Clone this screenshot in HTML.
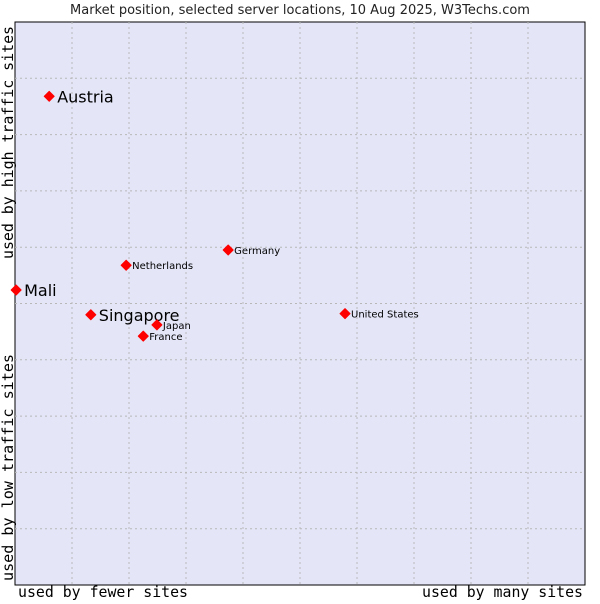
<!DOCTYPE html>
<html><head><meta charset="utf-8"><style>
body{margin:0;background:#fff;font-family:"DejaVu Sans","Liberation Sans",sans-serif}
</style></head><body>
<svg width="600" height="600" xmlns="http://www.w3.org/2000/svg">
<text x="300" y="14" text-anchor="middle" font-size="13" fill="#222">Market position, selected server locations, 10 Aug 2025, W3Techs.com</text>
<rect x="15" y="22" width="570" height="563" fill="#e4e6f8" stroke="#000" stroke-width="1"/>
<g id="grid"></g>
<g id="points"></g>
<text transform="translate(13,26) rotate(-90)" text-anchor="end" textLength="233" lengthAdjust="spacingAndGlyphs" font-family="DejaVu Sans Mono,Liberation Mono,monospace" font-size="15" fill="#000">used by high traffic sites</text>
<text transform="translate(13,581) rotate(-90)" textLength="227" lengthAdjust="spacingAndGlyphs" font-family="DejaVu Sans Mono,Liberation Mono,monospace" font-size="15" fill="#000">used by low traffic sites</text>
<text x="18" y="597" textLength="170" lengthAdjust="spacingAndGlyphs" font-family="DejaVu Sans Mono,Liberation Mono,monospace" font-size="15" fill="#000">used by fewer sites</text>
<text x="422" y="597" textLength="161" lengthAdjust="spacingAndGlyphs" font-family="DejaVu Sans Mono,Liberation Mono,monospace" font-size="15" fill="#000">used by many sites</text>
</svg>
<script>
const names=["Austria","Mali","Singapore","Netherlands","Germany","Japan","France","United States"];
const xVals=[6.0,0.2,13.3,19.5,37.4,24.9,22.5,57.9];
const yVals=[86.8,52.4,48.0,56.8,59.5,46.2,44.2,48.2];
const bigLabel=[true,true,true,false,false,false,false,false];
const L=15,T=22,W=570,H=563;
const sx=v=>L+v/100*W, sy=v=>T+H-v/100*H;
const NS="http://www.w3.org/2000/svg";
const g=document.getElementById('grid');
for(let i=1;i<10;i++){
 let l=document.createElementNS(NS,'line');
 l.setAttribute('x1',sx(i*10));l.setAttribute('x2',sx(i*10));l.setAttribute('y1',T);l.setAttribute('y2',T+H);
 l.setAttribute('stroke','#b8b8b8');l.setAttribute('stroke-dasharray','2,3');
 
 
 g.appendChild(l);
 let h=document.createElementNS(NS,'line');
 h.setAttribute('y1',sy(i*10));h.setAttribute('y2',sy(i*10));h.setAttribute('x1',L);h.setAttribute('x2',L+W);
 h.setAttribute('stroke','#b8b8b8');h.setAttribute('stroke-dasharray','2,3');
 
 
 g.appendChild(h);
}
const p=document.getElementById('points');
names.forEach((n,i)=>{
 const x=sx(xVals[i]),y=sy(yVals[i]);
 let d=document.createElementNS(NS,'path');
 d.setAttribute('d',`M${x-5},${y}L${x},${y-5}L${x+5},${y}L${x},${y+5}Z`);
 d.setAttribute('fill','#f00');d.setAttribute('stroke','#f00');d.setAttribute('stroke-linejoin','round');d.setAttribute('stroke-width','1');
 
 
 p.appendChild(d);
 let t=document.createElementNS(NS,'text');
 const big=bigLabel[i];
 t.setAttribute('x',x+(big?8:6));t.setAttribute('y',y+(big?6:4));
 t.setAttribute('font-size',big?16:10);t.setAttribute('fill','#000');
 t.textContent=n;
 
 
 p.appendChild(t);
});
</script>
</body></html>
